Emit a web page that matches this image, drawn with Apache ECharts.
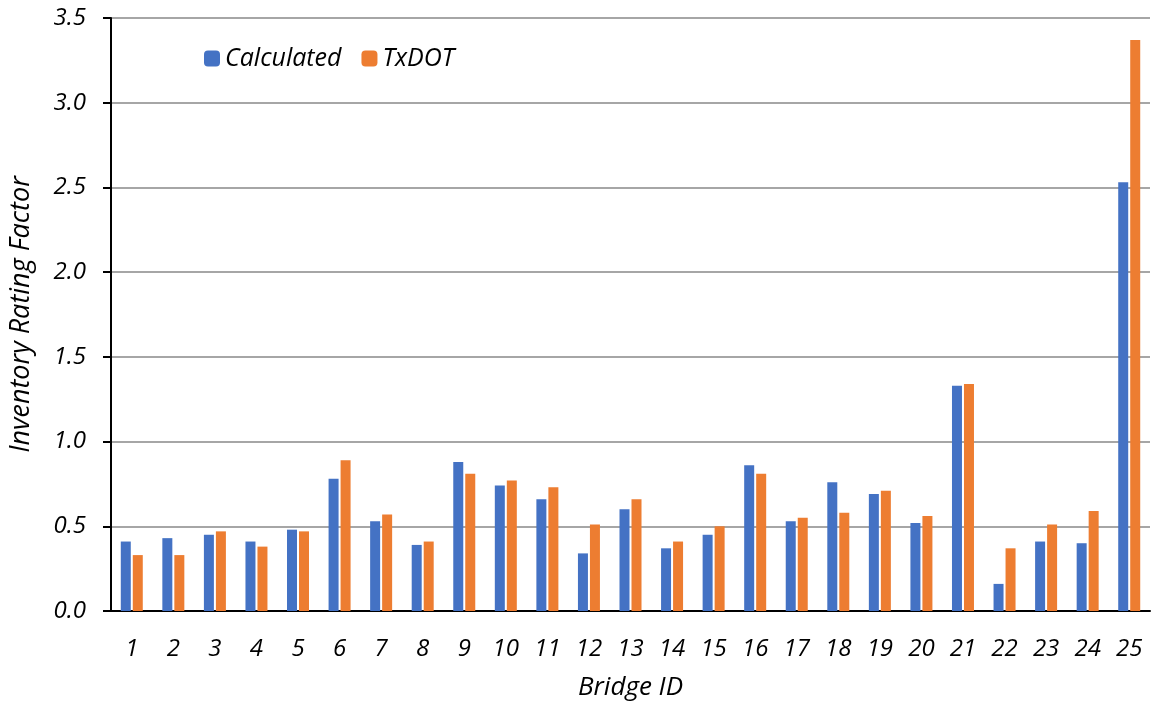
<!DOCTYPE html>
<html>
<head>
<meta charset="utf-8">
<style>
  html, body { margin: 0; padding: 0; background: #fff; }
  #chart { width: 1155px; height: 707px; }
</style>
<script src="https://cdn.jsdelivr.net/npm/echarts@6/dist/echarts.min.js"></script>
</head>
<body>
<div id="chart"></div>
<script>
// bridge ids along the x axis
const bridgeIds = ['1','2','3','4','5','6','7','8','9','10','11','12','13','14','15','16','17','18','19','20','21','22','23','24','25'];

// inventory rating factors
const calculated = [0.41, 0.43, 0.45, 0.41, 0.48, 0.78, 0.53, 0.39, 0.88, 0.74, 0.66, 0.34, 0.60, 0.37, 0.45, 0.86, 0.53, 0.76, 0.69, 0.52, 1.33, 0.16, 0.41, 0.40, 2.53];
const txdot = [0.33, 0.33, 0.47, 0.38, 0.47, 0.89, 0.57, 0.41, 0.81, 0.77, 0.73, 0.51, 0.66, 0.41, 0.50, 0.81, 0.55, 0.58, 0.71, 0.56, 1.34, 0.37, 0.51, 0.59, 3.37];

const yTicks = { min: 0, max: 3.5, interval: 0.5 };

const font = '"Open Sans", sans-serif';

const chart = echarts.init(document.getElementById('chart'), null, { renderer: 'canvas' });

chart.setOption({
  animation: false,
  textStyle: { fontFamily: font },
  legend: {
    left: 199,
    top: 41,
    itemWidth: 16,
    itemHeight: 16,
    itemGap: 20,
    textStyle: { fontSize: 25, fontStyle: 'italic', color: '#000', fontFamily: font },
    data: ['Calculated', 'TxDOT']
  },
  grid: { left: 105, right: 5, top: 18, bottom: 96 },
  xAxis: {
    type: 'category',
    data: bridgeIds,
    name: 'Bridge ID',
    nameLocation: 'middle',
    nameGap: 64,
    nameTextStyle: { fontSize: 26, fontStyle: 'italic', color: '#000', fontFamily: font },
    axisLine: { lineStyle: { color: '#000', width: 2 } },
    axisTick: { show: false },
    axisLabel: { fontSize: 24, fontStyle: 'italic', color: '#000', margin: 26, fontFamily: font }
  },
  yAxis: {
    type: 'value',
    min: yTicks.min,
    max: yTicks.max,
    interval: yTicks.interval,
    name: 'Inventory Rating Factor',
    nameLocation: 'middle',
    nameGap: 76,
    nameTextStyle: { fontSize: 27, fontStyle: 'italic', color: '#000', fontFamily: font },
    axisLine: { show: true, lineStyle: { color: '#000', width: 2 } },
    axisTick: { show: true, length: 8, lineStyle: { color: '#000', width: 2 } },
    axisLabel: {
      fontSize: 24, fontStyle: 'italic', color: '#000', margin: 25, fontFamily: font,
      formatter: v => v.toFixed(1)
    },
    splitLine: { lineStyle: { color: '#a6a6a6', width: 2 } }
  },
  series: [
    {
      name: 'Calculated',
      type: 'bar',
      data: calculated,
      barWidth: 10,
      barGap: '20%',
      itemStyle: { color: '#4472C4' }
    },
    {
      name: 'TxDOT',
      type: 'bar',
      data: txdot,
      barWidth: 10,
      barGap: '20%',
      itemStyle: { color: '#ED7D31' }
    }
  ]
});

window.addEventListener('resize', () => chart.resize());
</script>
</body>
</html>
